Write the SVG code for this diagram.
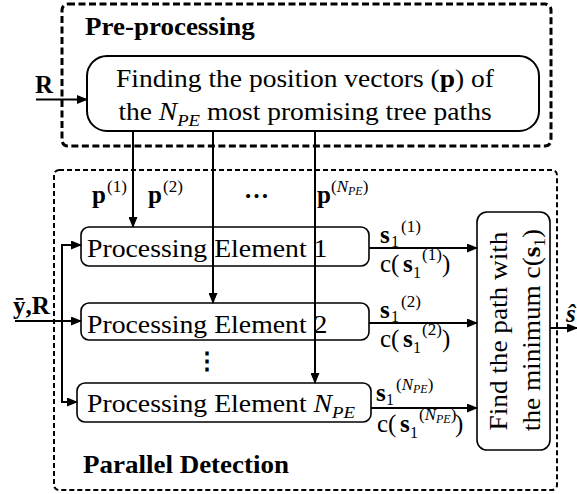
<svg xmlns="http://www.w3.org/2000/svg" width="577" height="494" viewBox="0 0 577 494" font-family="'Liberation Serif', 'Times New Roman', serif">
  <style>
    text { font-family: "Liberation Serif", "Times New Roman", serif; fill: #000; }
    .main { font-size: 25px; }
    .title { font-size: 25px; font-weight: bold; }
    .lbl { font-size: 25px; }
    .b { font-weight: bold; }
    .it { font-style: italic; }
    .sup { font-size: 17px; font-weight: normal; }
    .sub { font-size: 16px; font-weight: normal; }
    .tiny { font-size: 12px; font-style: italic; }
    .box { fill: none; stroke: #000; stroke-width: 2; }
    .pe { fill: none; stroke: #000; stroke-width: 1.6; }
    .grp1 { fill: none; stroke: #000; stroke-width: 3; stroke-dasharray: 7 3.5; }
    .grp2 { fill: none; stroke: #000; stroke-width: 2; stroke-dasharray: 5 3; }
    .wire { fill: none; stroke: #000; stroke-width: 2; }
    .arr { fill: none; stroke: #000; stroke-width: 2; marker-end: url(#head); }
  </style>
  <defs>
    <marker id="head" markerUnits="userSpaceOnUse" markerWidth="11" markerHeight="9" refX="10" refY="4.5" orient="auto">
      <path d="M0,0 L11,4.5 L0,9 z" fill="#000"/>
    </marker>
  </defs>

  <!-- Pre-processing stage -->
  <g id="preprocessing">
    <rect class="grp1" x="62" y="4" width="489" height="142" rx="6"/>
    <text class="title" transform="translate(85,35) scale(1.08,1)">Pre-processing</text>
  </g>
  <g id="find-paths">
    <rect class="box" x="87" y="56" width="452" height="75" rx="20"/>
    <text class="main" text-anchor="middle" transform="translate(305,87) scale(1.1,1)">Finding the position vectors (<tspan class="b">p</tspan>) of</text>
    <text class="main" text-anchor="middle" transform="translate(305,120) scale(1.1,1)">the <tspan class="it">N</tspan><tspan class="it" font-size="17" dy="6">PE</tspan><tspan dy="-6"> most promising tree paths</tspan></text>
  </g>

  <!-- Parallel detection stage -->
  <g id="parallel-detection">
    <rect class="grp2" x="54" y="170" width="503" height="320" rx="5"/>
    <text class="title" transform="translate(83,473) scale(1.08,1)">Parallel Detection</text>
  </g>
  <g id="pe1">
    <rect class="pe" x="81" y="227" width="288" height="39" rx="8"/>
    <text class="main" transform="translate(87,257) scale(1.11,1)">Processing Element 1</text>
  </g>
  <g id="pe2">
    <rect class="pe" x="81" y="303" width="288" height="37" rx="8"/>
    <text class="main" transform="translate(87,333) scale(1.11,1)">Processing Element 2</text>
  </g>
  <g id="pe-npe">
    <rect class="pe" x="77" y="383" width="294" height="39" rx="8"/>
    <text class="main" transform="translate(87,412) scale(1.11,1)">Processing Element <tspan class="it">N</tspan><tspan class="it" font-size="17" dy="6">PE</tspan></text>
  </g>
  <g id="min-select">
    <rect class="pe" x="477" y="212" width="73" height="238" rx="10"/>
    <text class="main" text-anchor="middle" transform="translate(507,331) rotate(-90) scale(1.09,1)">Find the path with</text>
    <text class="main" text-anchor="middle" transform="translate(540,330) rotate(-90) scale(1.09,1)">the minimum c(<tspan class="b">s</tspan><tspan font-size="16" dy="5">1</tspan><tspan dy="-5">)</tspan></text>
  </g>

  <!-- Connectors -->
  <g id="connectors">
    <line class="arr" x1="36" y1="99.5" x2="87" y2="99.5"/>
    <line class="arr" x1="133" y1="131" x2="133" y2="227"/>
    <line class="arr" x1="213" y1="131" x2="213" y2="303"/>
    <line class="arr" x1="315" y1="131" x2="315" y2="383"/>
    <line class="arr" x1="15" y1="321" x2="81" y2="321"/>
    <line class="wire" x1="62" y1="244" x2="62" y2="403"/>
    <line class="arr" x1="61" y1="245" x2="81" y2="245"/>
    <line class="arr" x1="61" y1="402" x2="77" y2="402"/>
    <line class="arr" x1="369" y1="248" x2="477" y2="248"/>
    <line class="arr" x1="369" y1="323" x2="477" y2="323"/>
    <line class="arr" x1="371" y1="408" x2="477" y2="408"/>
    <line class="arr" x1="550" y1="328" x2="577" y2="328"/>
  </g>

  <!-- Connector labels -->
  <g id="labels">
    <text class="lbl b" x="35" y="93">R</text>
    <text class="lbl b" x="13" y="314">ȳ,R</text>

    <text class="lbl b" x="92" y="203">p<tspan class="sup" x="107" y="192">(1)</tspan></text>
    <text class="lbl b" x="148" y="203">p<tspan class="sup" x="163" y="192">(2)</tspan></text>
    <text class="lbl b" x="244" y="198">…</text>
    <text class="lbl b" x="317" y="203">p<tspan class="sup" x="331" y="192">(<tspan class="it">N</tspan><tspan class="tiny" dy="3">PE</tspan><tspan dy="-3">)</tspan></tspan></text>

    <text font-family="DejaVu Sans" font-weight="bold" font-size="24" x="207" y="369" text-anchor="middle">⋮</text>

    <text class="lbl b" x="380" y="243">s<tspan class="sub" x="391" y="247">1</tspan><tspan class="sup" x="401" y="232">(1)</tspan></text>
    <text class="lbl" x="380" y="272">c(<tspan class="b" x="403">s</tspan><tspan class="sub" x="413" y="278">1</tspan><tspan class="sup" x="422" y="260">(1)</tspan><tspan x="442" y="272">)</tspan></text>

    <text class="lbl b" x="380" y="318">s<tspan class="sub" x="391" y="322">1</tspan><tspan class="sup" x="401" y="307">(2)</tspan></text>
    <text class="lbl" x="380" y="347">c(<tspan class="b" x="403">s</tspan><tspan class="sub" x="413" y="353">1</tspan><tspan class="sup" x="422" y="335">(2)</tspan><tspan x="442" y="347">)</tspan></text>

    <text class="lbl b" x="376" y="401">s<tspan class="sub" x="386" y="405">1</tspan><tspan class="sup" x="396" y="390">(<tspan class="it">N</tspan><tspan class="tiny" dy="3">PE</tspan><tspan dy="-3">)</tspan></tspan></text>
    <text class="lbl" x="377" y="432">c(<tspan class="b" x="400">s</tspan><tspan class="sub" x="410" y="438">1</tspan><tspan class="sup" x="419" y="420">(<tspan class="it">N</tspan><tspan class="tiny" dy="3">PE</tspan><tspan dy="-3">)</tspan></tspan><tspan x="455" y="432">)</tspan></text>

    <text class="lbl b it" x="566" y="322">ŝ</text>
  </g>
</svg>
